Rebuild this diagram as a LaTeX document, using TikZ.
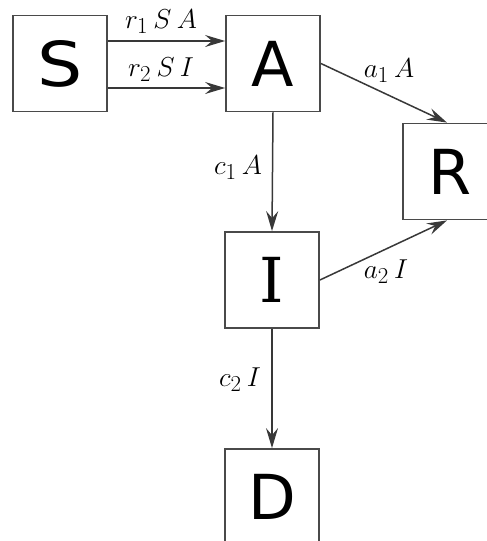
\documentclass[tikz,border=0pt]{standalone}
\usepackage{fontspec}
\newfontfamily\boxfont{DejaVu Sans}
\newfontfamily\ifont{DejaVu Serif}
\usetikzlibrary{arrows.meta}
\definecolor{edge}{HTML}{4A4A4A}
\definecolor{arr}{HTML}{383838}
\tikzset{
  compartment/.style={draw=edge, line width=1.8pt, minimum width=94pt, minimum height=96pt, inner sep=0pt,
    font=\boxfont\fontsize{62}{62}\selectfont},
  flow/.style={draw=arr, line width=1.5pt, -{Stealth[length=20pt,width=12pt,inset=7pt]}},
  lab/.style={inner sep=0pt, font=\fontsize{24.88}{28}\selectfont}
}
\newcommand{\lsp}{\mskip 3.5mu}
\newcommand{\lbl}[1]{\scalebox{1.1}{$#1$}}
\begin{document}
\begin{tikzpicture}[x=1pt,y=-1pt]
\useasboundingbox (0,0) rectangle (487,541);
\clip (0,0) rectangle (487,541);
\node[compartment] (S) at (60,63.5) {\scalebox{1.15}[1]{S}};
\node[compartment] (A) at (273,63.5) {A};
\node[compartment] (R) at (450,171.5) {R};
\node[compartment] (I) at (272,280) {\ifont I};
\node[compartment] (D) at (272,497) {D};
\draw[flow] ([yshift=22.5pt]S.east) -- ([yshift=22.5pt]A.west);
\draw[flow] ([yshift=-24.5pt]S.east) -- ([yshift=-24.5pt]A.west);
\draw[flow] (A.south) -- (I.north);
\draw[flow] (I.south) -- (D.north);
\draw[flow] (A.east) -- ([xshift=-3pt]R.north);
\draw[flow] (I.east) -- ([xshift=-3pt]R.south);
\node[lab] (l1) at (161,22) {\lbl{r_1\lsp S\lsp A}};
\node[lab] (l2) at (161,70) {\lbl{r_2\lsp S\lsp I}};
\node[lab] (l3) at (238,168) {\lbl{c_1\lsp A}};
\node[lab] (l4) at (240,380) {\lbl{c_2\lsp I}};
\node[lab] (l5) at (389,71) {\lbl{a_1\lsp A}};
\node[lab] (l6) at (386,272) {\lbl{a_2\lsp I}};
\end{tikzpicture}
\end{document}
